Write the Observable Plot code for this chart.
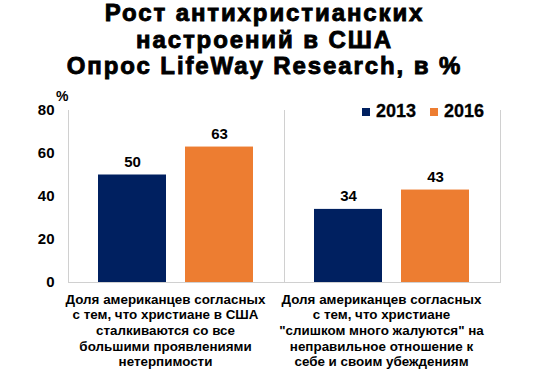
<!DOCTYPE html>
<html><head><meta charset="utf-8">
<script src="https://cdn.jsdelivr.net/npm/d3@7"></script>
<script src="https://cdn.jsdelivr.net/npm/@observablehq/plot@0.6"></script>
<style>
body{margin:0;background:#fff;font-family:"Liberation Sans",Arial,sans-serif;}
#wrap{position:relative;width:545px;height:376px;overflow:hidden;}
#title{height:85px;text-align:center;font-weight:bold;font-size:24px;line-height:26.5px;padding-top:0px;padding-right:16px;box-sizing:border-box;color:#000;-webkit-text-stroke:0.9px #000;letter-spacing:1.9px;}
#title div{white-space:nowrap;}
#legend{position:absolute;left:362px;top:101px;font-weight:bold;font-size:18px;display:flex;align-items:center;-webkit-text-stroke:0.3px #000;}
#legend span.sw{display:inline-block;width:8px;height:8px;margin-right:6px;}
#pct{position:absolute;left:56px;top:88px;font-weight:bold;font-size:14px;}
</style></head>
<body><div id="wrap">
<div id="title"><div>Рост антихристианских</div><div>настроений в США</div><div>Опрос LifeWay Research, в %</div></div>
<div id="chart"></div>
<div id="pct">%</div>
<div id="legend"></div>
</div>
<script>
const categories = [
  "Доля американцев согласных\nс тем, что христиане в США\nсталкиваются со все\nбольшими проявлениями\nнетерпимости",
  "Доля американцев согласных\nс тем, что христиане\n\"слишком много жалуются\" на\nнеправильное отношение к\nсебе и своим убеждениям"
];
const years = ["2013", "2016"];
const values2013 = [50, 34];
const values2016 = [63, 43];
const colors = ["#002060", "#ED7D31"];
const yTicks = [0, 20, 40, 60, 80];

const data = [];
categories.forEach((c, i) => {
  data.push({cat: c, year: years[0], value: values2013[i]});
  data.push({cat: c, year: years[1], value: values2016[i]});
});

const grid = "#d0d0d0";
const chart = Plot.plot({
  width: 545,
  height: 291,
  marginTop: 25,
  marginBottom: 94,
  marginLeft: 67,
  marginRight: 45,
  style: {fontFamily: "Liberation Sans, Arial, sans-serif", color: "#000", background: "#fff"},
  fx: {domain: categories, padding: 0},
  x: {domain: years, paddingInner: 0.216, paddingOuter: 0.338},
  y: {domain: [0, 80]},
  color: {domain: years, range: colors},
  marks: [
    Plot.frame({anchor: "left", stroke: grid}),
    Plot.frame({anchor: "right", stroke: grid}),
    Plot.barY(data, {fx: "cat", x: "year", y: "value", fill: "year"}),
    Plot.ruleY([0], {stroke: grid, strokeWidth: 1.2}),
    Plot.text(data, {fx: "cat", x: "year", y: "value", text: d => String(d.value), dy: -13, fontSize: 15, fontWeight: "bold", fill: "#000"}),
    Plot.axisY({ticks: yTicks, tickSize: 0, tickPadding: 14, fontSize: 15, fontWeight: "bold", label: null}),
    Plot.axisX({ticks: [], label: null}),
    Plot.axisFx({anchor: "bottom", tickSize: 0, tickPadding: 10, fontSize: 13.4, fontWeight: "bold", lineHeight: 1.17, dx: -11, label: null})
  ]
});
document.getElementById("chart").appendChild(chart);

const leg = document.getElementById("legend");
years.forEach((y, i) => {
  const sw = document.createElement("span");
  sw.className = "sw"; sw.style.background = colors[i];
  const t = document.createElement("span");
  t.textContent = y; t.style.marginRight = i === 0 ? "14px" : "0";
  leg.appendChild(sw); leg.appendChild(t);
});
</script>
</body></html>
